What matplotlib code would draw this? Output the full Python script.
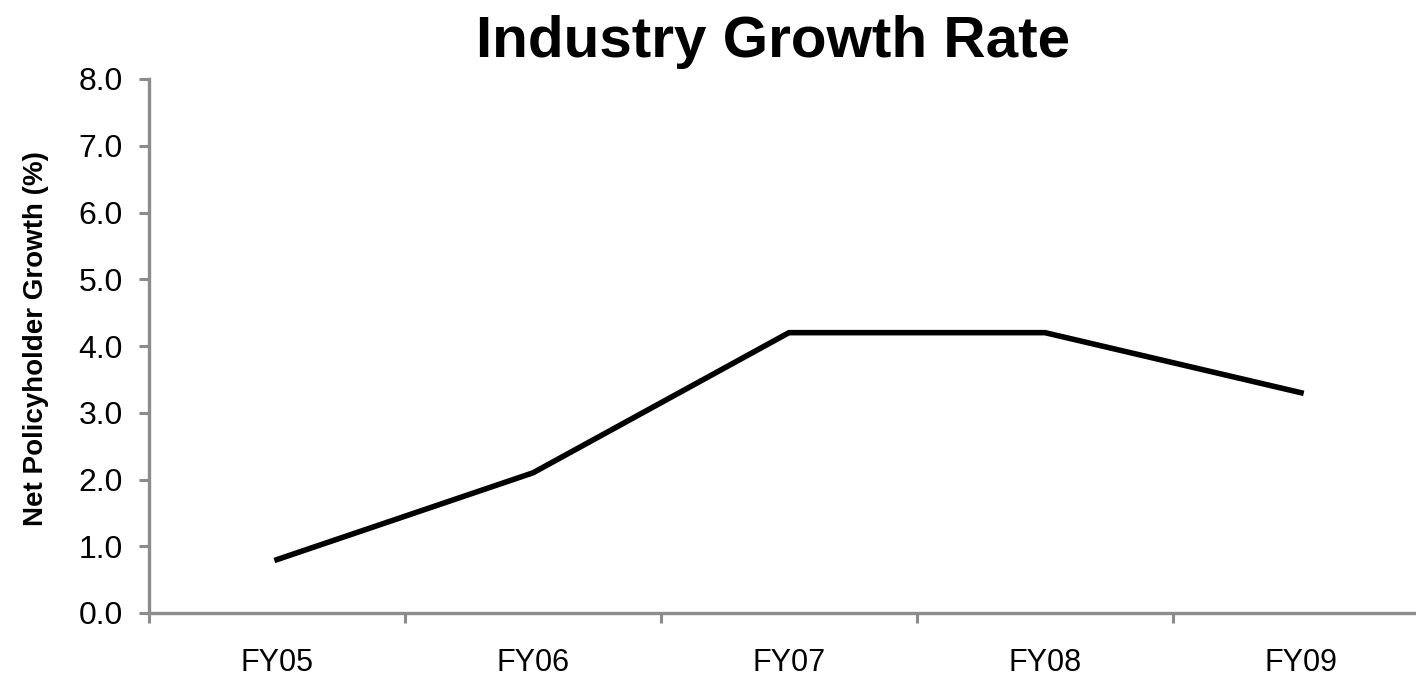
import matplotlib.pyplot as plt
import numpy as np

plt.rcParams['font.family'] = ['Liberation Sans', 'DejaVu Sans']

years = ['FY05', 'FY06', 'FY07', 'FY08', 'FY09']
growth = [0.8, 2.1, 4.2, 4.2, 3.3]
yticks = [0.0, 1.0, 2.0, 3.0, 4.0, 5.0, 6.0, 7.0, 8.0]

W, H = 1416, 678
fig = plt.figure(figsize=(W / 100, H / 100), dpi=100)
ax = fig.add_axes([149 / W, 1 - 613 / H, 1280 / W, (613 - 79) / H])

x = np.arange(len(years))
ax.plot(x, growth, color='black', lw=4, solid_joinstyle='miter')

ax.set_xlim(-0.5, len(years) - 0.5)
ax.set_ylim(0, 8)
ax.set_yticks(yticks)
ax.set_yticklabels(['%.1f' % v for v in yticks])
ax.set_xticks(x)
ax.set_xticklabels(years)
ax.set_xticks(np.arange(len(years) + 1) - 0.5, minor=True)

grey = '#8c8c8c'
for s in ['top', 'right']:
    ax.spines[s].set_visible(False)
for s in ['left', 'bottom']:
    ax.spines[s].set_color(grey)
    ax.spines[s].set_linewidth(2.4)
    ax.spines[s].set_clip_on(False)

ax.tick_params(axis='y', length=7, width=2.2, color=grey, labelsize=23, pad=12)
ax.tick_params(axis='x', which='major', length=0, labelsize=22, pad=25)
ax.tick_params(axis='x', which='minor', length=7, width=2.2, color=grey)

fig.text(773 / W, 1 - 57 / H, 'Industry Growth Rate', ha='center', va='baseline',
         fontsize=42, fontweight='bold')
fig.text(36 / W, 1 - 339 / H, 'Net Policyholder Growth (%)', rotation=90,
         ha='center', va='center', fontsize=20, fontweight='bold')

fig.savefig('out.png', dpi=100)
